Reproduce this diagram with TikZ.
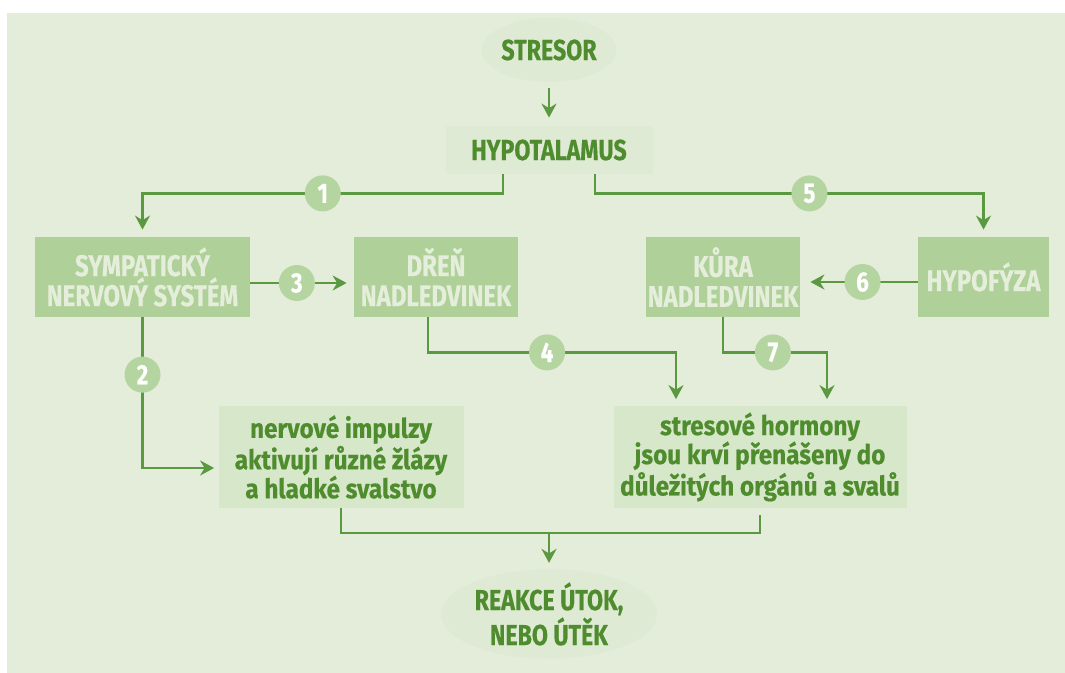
\documentclass[tikz,border=0pt]{standalone}
\usepackage{fontspec}
\setmainfont{Fira Sans}[FakeStretch=0.9, BoldFeatures={FakeBold=0.4}]
\newfontfamily\condfont{Fira Sans}[FakeStretch=0.8, BoldFeatures={FakeBold=0.4}]
\usetikzlibrary{arrows.meta, positioning, shapes.geometric}

\definecolor{bgcol}{HTML}{E3EDDA}
\definecolor{faintcol}{HTML}{DEEAD4}
\definecolor{effectcol}{HTML}{D7E7CA}
\definecolor{organcol}{HTML}{AFD098}
\definecolor{organtext}{HTML}{E4EEDA}
\definecolor{darkgreen}{HTML}{4E8C2E}
\definecolor{linecol}{HTML}{5B9940}
\definecolor{numcol}{HTML}{B5D5A0}

\tikzset{
  title/.style={fill=faintcol, text=darkgreen, inner sep=0pt, align=center,
    font=\condfont\bfseries\fontsize{14.5}{17.5}\selectfont},
  organ/.style={rectangle, fill=organcol, text=organtext, inner sep=0pt,
    minimum height=40pt, align=center, font=\condfont\bfseries\fontsize{15}{15}\selectfont},
  effect/.style={rectangle, fill=effectcol, text=darkgreen, inner sep=0pt,
    minimum height=50.5pt, align=center, font=\bfseries\fontsize{13.5}{14.5}\selectfont},
  num/.style={circle, fill=numcol, text=white, inner sep=0pt, minimum size=18pt,
    font=\condfont\bfseries\fontsize{14}{14}\selectfont},
  link/.style={draw=linecol, line width=1.3pt},
}

\begin{document}
\begin{tikzpicture}[x=0.5pt, y=-0.5pt, on grid, node distance=50pt,
    >={Stealth[length=7pt, width=7.5pt]}, shorten >=3.5pt]

    \useasboundingbox (0,0) rectangle (1065,673);
    \fill[bgcol] (7,13) rectangle (1065,673);

    \node[title, rectangle, minimum width=103.5pt, minimum height=24pt] (hypo) at (549,150) {HYPOTALAMUS};
    \node[title, ellipse, minimum width=63pt, minimum height=32pt, above=of hypo] (stresor) {STRESOR};

    \node[organ, minimum width=107.5pt, below left=63.5pt and 203.25pt of hypo] (symp) {SYMPATICKÝ\\NERVOVÝ SYSTÉM};
    \node[organ, minimum width=82pt, right=146.75pt of symp] (dren) {DŘEŇ\\NADLEDVINEK};
    \node[organ, minimum width=77pt, right=143.5pt of dren] (kura) {KŮRA\\NADLEDVINEK};
    \node[organ, minimum width=65.5pt, right=130.25pt of kura] (hypof) {HYPOFÝZA};

    \node[effect, minimum width=122.5pt, below right=90pt and 99.25pt of symp] (nerv) {nervové impulzy\\aktivují různé žlázy\\a hladké svalstvo};
    \node[effect, minimum width=146.5pt, right=209.5pt of nerv] (horm) {stresové hormony\\jsou krví přenášeny do\\důležitých orgánů a svalů};

    \node[title, ellipse, minimum width=108pt, minimum height=38pt, below=232pt of hypo] (reakce) {REAKCE ÚTOK,\\NEBO ÚTĚK};

    \draw[link, ->, shorten <=3pt, shorten >=4pt] (stresor) -- (hypo);

    \draw[link, ->] ([xshift=-23pt]hypo.south) -- ++(0,-9.5pt) -| node[num, pos=0.25] {1} (symp);
    \draw[link, ->] ([xshift=23pt]hypo.south) -- ++(0,-9.5pt) -| node[num, pos=0.276] {5} (hypof);

    \draw[link, ->] ([yshift=-3pt]symp.east) -- node[num, pos=0.45] {3} ([yshift=-3pt]dren.west);
    \draw[link, ->, shorten >=5pt] ([yshift=-2.5pt]hypof.west) -- node[num, pos=0.47] {6} ([yshift=-2.5pt]kura.east);

    \draw[link, ->, shorten >=2pt] (symp.south) |- node[num, pos=0.19] {2} ([yshift=-5.5pt]nerv.west);
    \draw[link, ->] ([xshift=-4pt]dren.south) -- ++(0,-17.5pt) -| node[num, pos=0.24] {4} ([xshift=-42pt]horm.north);
    \draw[link, ->] (kura.south) -- ++(0,-17.5pt) -| node[num, pos=0.24] {7} ([xshift=33.5pt]horm.north);

    \draw[link] (nerv.south) -- ++(0,-12.5pt) coordinate (merge) -| (horm.south);
    \draw[link, ->, shorten >=3pt] (merge -| reakce.north) -- (reakce.north);

\end{tikzpicture}
\end{document}
